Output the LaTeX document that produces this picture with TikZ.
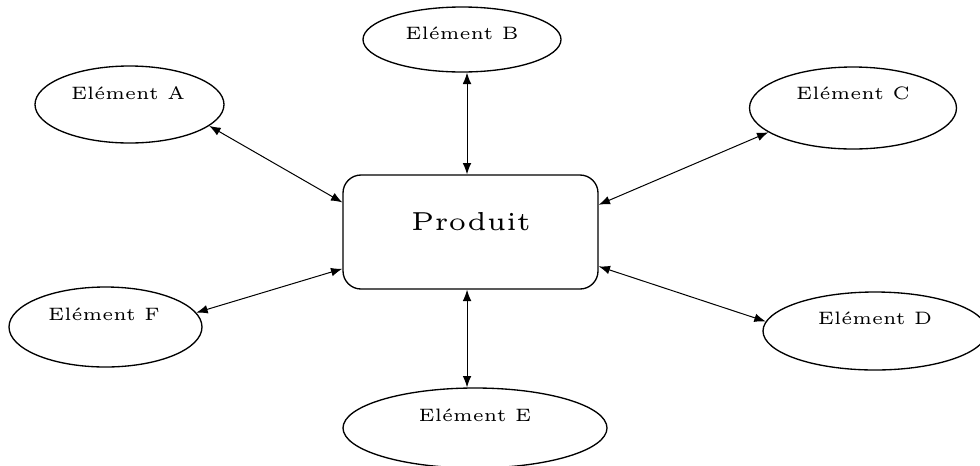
\documentclass[tikz,border=0pt]{standalone}
\usepackage{graphicx}
\usetikzlibrary{shapes.geometric,arrows.meta}

% Labels are set in the 5pt optical size and enlarged, which gives the wide letter shapes
\newcommand\elttext[1]{\scalebox{2.7}{\fontsize{5}{6}\selectfont #1}}
\newcommand\prodtext[1]{\scalebox{3.9}{\fontsize{5}{6}\selectfont #1}}

\tikzset{
  elt/.style={draw=black, ellipse, line width=1pt, inner sep=0pt},
  prod/.style={draw=black, rectangle, rounded corners=13.5pt, line width=1pt,
               minimum width=191.25pt, minimum height=85.5pt, inner sep=0pt},
  lbl/.style={inner sep=0pt, text=black},
  link/.style={draw=black, line width=0.75pt,
               {Latex[length=8.5pt,width=6.5pt]}-{Latex[length=8.5pt,width=6.5pt]}}
}

\begin{document}
\begin{tikzpicture}[x=0.75pt,y=-0.75pt]
  \useasboundingbox (0,0) rectangle (980,465);
  \clip (0,0) rectangle (980,465);

  % central product box
  \node[prod] (P) at (470.5,232) {};
  \node[lbl] (tP) at (471,222) {\prodtext{Produit}};

  % surrounding elements
  \node[elt, minimum width=141.75pt, minimum height=57.75pt] (A) at (129.5,104.5) {};
  \node[elt, minimum width=148.5pt,  minimum height=48.75pt] (B) at (462,39.5) {};
  \node[elt, minimum width=155.25pt, minimum height=61.5pt]  (C) at (853,108) {};
  \node[elt, minimum width=168pt,    minimum height=58.5pt]  (D) at (875,331) {};
  \node[elt, minimum width=198pt,    minimum height=60pt]    (E) at (475,428) {};
  \node[elt, minimum width=144.75pt, minimum height=60pt]    (F) at (105.5,327) {};

  \node[lbl] (tA) at (128,93)  {\elttext{Elément A}};
  \node[lbl] (tB) at (462,33)  {\elttext{Elément B}};
  \node[lbl] (tC) at (853,93)  {\elttext{Elément C}};
  \node[lbl] (tD) at (875,318) {\elttext{Elément D}};
  \node[lbl] (tE) at (475,415) {\elttext{Elément E}};
  \node[lbl] (tF) at (104,314) {\elttext{Elément F}};

  % two-way links
  \draw[link] (A.-15) -- (P.167.7);
  \draw[link] ([xshift=3.75pt]B.south) -- ([xshift=3.75pt]B.south |- P.north);
  \draw[link] (C.196.1) -- (P.12.8);
  \draw[link] (P.-15.8) -- (D.175.4);
  \draw[link] ([xshift=-2.6pt]P.south) -- ([xshift=-2.6pt]P.south |- E.north);
  \draw[link] (P.196.2) -- (F.9.3);
\end{tikzpicture}
\end{document}
